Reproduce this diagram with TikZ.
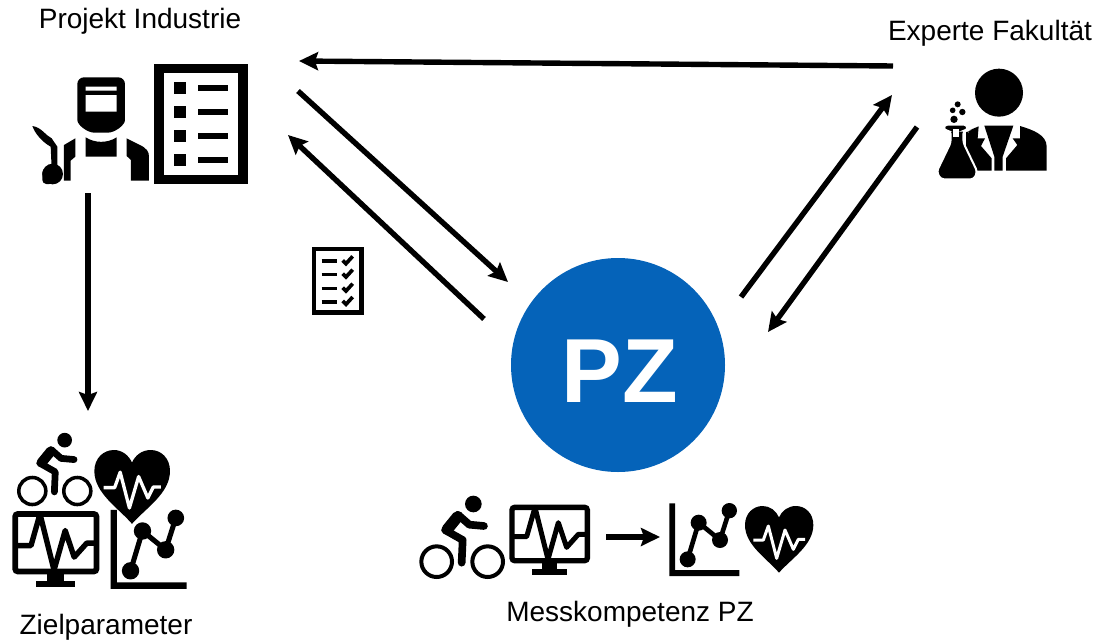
\documentclass[tikz,border=0pt]{standalone}
\usepackage{fontspec}
\setmainfont{Liberation Sans}
\usetikzlibrary{arrows.meta}
\definecolor{pzblue}{HTML}{0563B9}
\tikzset{
  flow/.style={line width=5.4pt,-{Stealth[length=19pt,width=18pt,inset=3pt]},black},
  lbl/.style={inner sep=0pt,font=\fontsize{28}{32}\selectfont,text=black},
}
% icons drawn in zoomed reference units; #1 x, #2 y, #3 scale
\newcommand{\icBike}[3]{\begin{scope}[shift={(#1,#2)},scale=#3]
  \fill (190,42) circle (25);
  \draw[line width=#3*12pt] (80,215) circle (46) (233,215) circle (46);
  \draw[line width=#3*23pt,line cap=round,line join=round] (222,108) -- (178,104) -- (145,75) -- (105,120) -- (158,150) -- (155,218);
  \draw[line width=#3*34pt,line cap=round] (143,80) -- (112,118);
\end{scope}}
\newcommand{\icMonitor}[3]{\begin{scope}[shift={(#1,#2)},scale=#3]
  \draw[line width=#3*16pt,rounded corners=#3*8pt] (306,52) rectangle (532,212);
  \fill (395,215) rectangle (442,240);
  \fill (365,238) rectangle (472,256);
  \draw[line width=#3*15pt,line join=round] (308,140) -- (350,140) -- (375,52) -- (414,208) -- (445,98) -- (470,172) -- (505,133) -- (530,133);
\end{scope}}
\newcommand{\icChart}[3]{\begin{scope}[shift={(#1,#2)},scale=#3]
  \fill (778,40) rectangle (795,258) (778,240) rectangle (988,258);
  \draw[line width=#3*14pt] (833,208) -- (866,98) -- (930,150) -- (958,62);
  \fill (833,208) circle (24) (866,98) circle (24) (930,150) circle (24) (958,62) circle (23);
\end{scope}}
\newcommand{\icHeart}[3]{\begin{scope}[shift={(#1,#2)},scale=#3]
  \fill (1107,248) .. controls (1070,205) and (1005,165) .. (1005,105) .. controls (1005,70) and (1030,48) .. (1058,48) .. controls (1080,48) and (1098,62) .. (1107,82) .. controls (1116,62) and (1134,48) .. (1158,48) .. controls (1186,48) and (1210,70) .. (1210,105) .. controls (1210,165) and (1145,205) .. (1107,248) -- cycle;
  \draw[white,line width=#3*9pt,line join=round] (1030,150) -- (1060,150) -- (1075,108) -- (1100,205) -- (1125,120) -- (1150,178) -- (1165,148) -- (1185,148);
\end{scope}}
\newcommand{\icWorker}{\begin{scope}[shift={(0,50)},scale=1/3]
  \fill[rounded corners=20pt/3] (232,82) -- (375,82) -- (375,190) .. controls (375,225) and (345,248) .. (303,248) .. controls (262,248) and (232,225) .. (232,190) -- cycle;
  \fill[white] (257,110) rectangle (350,122) (257,135) rectangle (350,185);
  \fill (257,262) .. controls (285,280) and (322,280) .. (350,262) -- (350,320) -- (257,320) -- cycle;
  \fill (380,265) -- (420,285) .. controls (440,295) and (447,305) .. (447,320) -- (447,392) -- (393,392) -- (393,330) -- (380,318) -- cycle;
  \fill (192,285) -- (226,265) -- (226,320) -- (212,332) -- (212,392) -- (192,392) -- cycle;
  \fill (97,228) .. controls (125,232) and (135,255) .. (155,265) -- (172,290) -- (172,355) -- (155,355) -- (152,290) .. controls (125,275) and (105,250) .. (97,228) -- cycle;
  \fill (158,372) circle (31);
  \fill[rounded corners=4pt] (127,355) rectangle (160,402);
  \draw[line width=28pt/3] (477,56) rectangle (729,388);
  \foreach \yy in {96,168,240,312}{\fill (522,\yy) rectangle (558,\yy+36); \fill (594,\yy+8) rectangle (685,\yy+27);}
\end{scope}}
\newcommand{\icScientist}{\begin{scope}[shift={(930,60)},scale=1/3]
  \fill (207,98) circle (72);
  \fill (163,197) -- (250,197) -- (218,290) -- (218,332) -- (193,332) -- (193,290) -- cycle;
  \fill (108,215) -- (146,199) -- (143,235) -- (165,235) -- (153,258) -- (185,295) -- (185,332) -- (135,332) -- (108,270) -- cycle;
  \fill (270,198) .. controls (310,210) and (350,225) .. (350,260) -- (350,332) -- (228,332) -- (228,295) -- (262,255) -- (248,235) -- (270,235) -- cycle;
  \fill[draw=white,line width=6pt/3,rounded corners=10pt/3] (42,194) -- (112,194) -- (112,212) -- (100,212) -- (100,248) -- (142,335) -- (132,358) -- (32,358) -- (20,335) -- (62,248) -- (62,212) -- (42,212) -- cycle;
  \fill[white] (68,207) rectangle (88,232);
  \fill (72,178) circle (11) (68,151) circle (8.5) (97,156) circle (9.5) (83,133) circle (9);
\end{scope}}
\newcommand{\icChecklist}{\begin{scope}[shift={(300,235)},scale=1/3]
  \draw[line width=14pt/3] (42,42) rectangle (185,233);
  \foreach \yy in {78,118,160,200}{
    \draw[line width=11pt/3] (65,\yy) -- (110,\yy);
    \draw[line width=11pt/3] (128,\yy-2) -- (138,\yy+8) -- (158,\yy-14);}
\end{scope}}
\begin{document}
\begin{tikzpicture}[x=1pt,y=-1pt]
\useasboundingbox (0,0) rectangle (1095,640);
\fill[white] (0,0) rectangle (1095,640);
\node[lbl] (projekt) at (140,21) {Projekt Industrie};
\node[lbl] (experte) at (990,33) {Experte Fakultät};
\node[lbl] (ziel) at (106,627) {Zielparameter};
\node[lbl] (mess) at (630,614) {Messkompetenz PZ};
\node[circle,fill=pzblue,minimum size=214pt,inner sep=0pt] (pz) at (618,365) {};
\node[anchor=base,inner sep=0pt,text=white,font=\fontsize{91}{100}\selectfont\bfseries] (pztext) at (620,402) {PZ};
\icWorker
\icScientist
\icChecklist
\icBike{8.8}{427.8}{.294}
\icMonitor{-95}{495.2}{.36}
\icHeart{-276.5}{432.3}{.369}
\icChart{-171}{495.5}{.362}
\icBike{410}{490}{1/3}
\icMonitor{410}{490}{1/3}
\icChart{410}{490}{1/3}
\icHeart{410}{490}{1/3}
\coordinate (a1s) at (893,66); \coordinate (a1e) at (299,61);
\coordinate (a2s) at (298,91); \coordinate (a2e) at (508,282);
\coordinate (a3s) at (484,319); \coordinate (a3e) at (288,135);
\coordinate (a4s) at (741,297); \coordinate (a4e) at (892,95);
\coordinate (a5s) at (917,127); \coordinate (a5e) at (768,332);
\coordinate (a6s) at (88,193); \coordinate (a6e) at (88,411);
\coordinate (a7s) at (606,537); \coordinate (a7e) at (660,537);
\draw[flow] (a1s) -- (a1e);
\draw[flow] (a2s) -- (a2e);
\draw[flow] (a3s) -- (a3e);
\draw[flow] (a4s) -- (a4e);
\draw[flow] (a5s) -- (a5e);
\draw[flow] (a6s) -- (a6e);
\draw[flow] (a7s) -- (a7e);
\end{tikzpicture}
\end{document}
